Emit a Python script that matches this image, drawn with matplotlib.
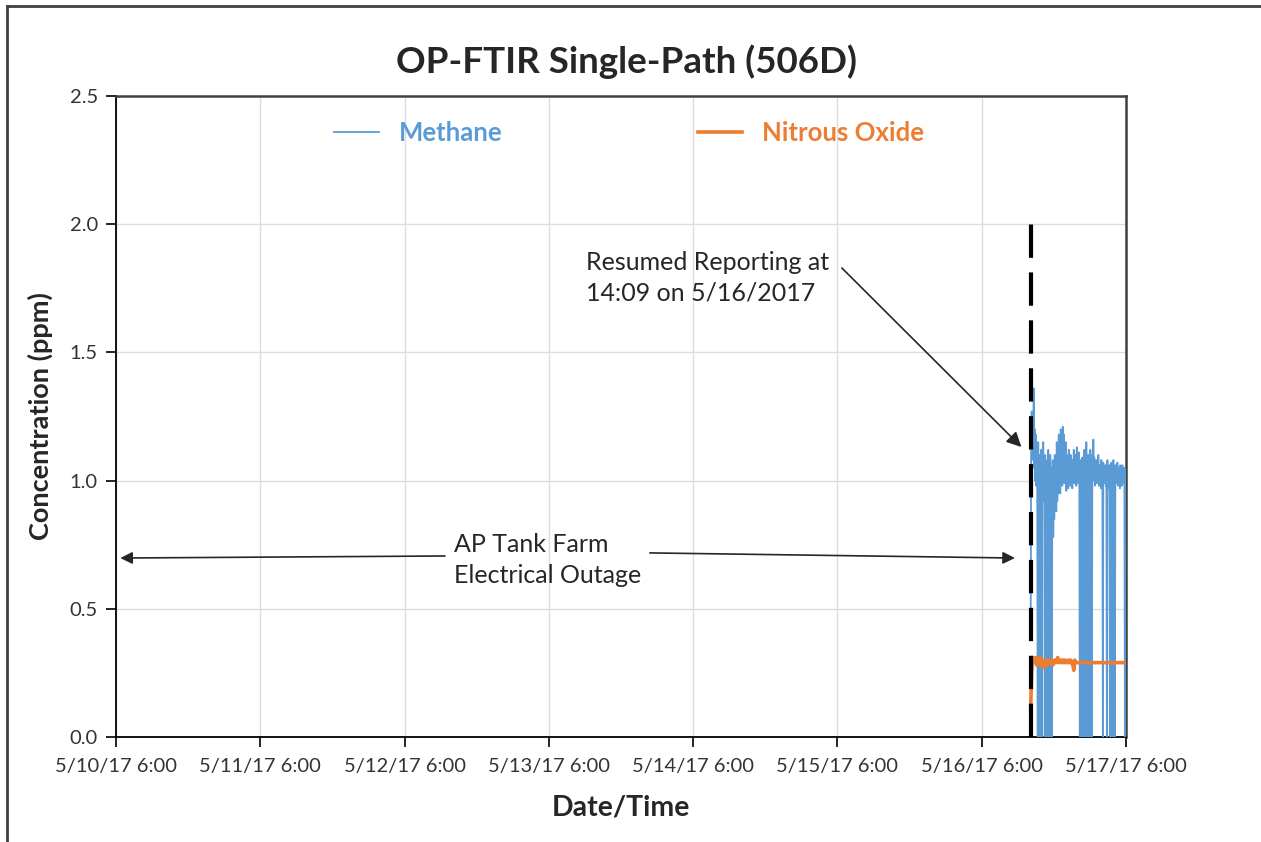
import matplotlib
matplotlib.use("Agg")
import matplotlib.pyplot as plt
from matplotlib.lines import Line2D
import pandas as pd

plt.rcParams['font.family'] = ['Lato', 'DejaVu Sans']

# ---------------- data ----------------
x_ticks = pd.date_range("2017-05-10 06:00", "2017-05-17 06:00", freq="D")
x_tick_labels = ["5/10/17 6:00", "5/11/17 6:00", "5/12/17 6:00", "5/13/17 6:00",
                 "5/14/17 6:00", "5/15/17 6:00", "5/16/17 6:00", "5/17/17 6:00"]
y_ticks = [0.0, 0.5, 1.0, 1.5, 2.0, 2.5]
resume_time = pd.Timestamp("2017-05-16 14:09")

methane = [
    0.45, 1.20, 1.27, 1.15, 1.22, 1.08, 1.36, 1.05, 1.20, 1.00,
    1.18, 0.98, 1.12, 1.02, 0.00, 1.15, 0.00, 1.10, 0.00, 1.05,
    0.00, 1.12, 0.00, 1.08, 0.95, 1.15, 0.92, 1.05, 0.00, 1.10,
    0.00, 1.05, 0.00, 1.08, 0.00, 1.12, 0.00, 1.02, 0.00, 1.10,
    0.00, 1.05, 0.00, 0.95, 1.08, 0.78, 1.02, 0.85, 1.10, 0.90,
    1.05, 0.88, 1.15, 0.92, 1.08, 0.95, 1.18, 0.98, 1.12, 0.95,
    1.20, 1.00, 1.16, 0.98, 1.21, 1.02, 1.18, 0.99, 1.12, 1.00,
    1.15, 0.96, 1.10, 1.00, 1.08, 0.97, 1.12, 1.01, 1.06, 0.98,
    1.10, 1.00, 1.05, 0.97, 1.08, 1.02, 1.12, 0.99, 1.06, 1.00,
    1.10, 0.98, 1.13, 1.01, 1.07, 0.99, 1.11, 1.02, 0.00, 1.08,
    0.00, 1.05, 0.00, 1.09, 0.00, 1.06, 0.00, 1.12, 0.00, 1.04,
    0.00, 1.15, 0.00, 1.08, 0.00, 1.10, 0.00, 1.05, 0.00, 1.12,
    0.00, 1.07, 0.00, 1.10, 1.00, 1.16, 1.02, 1.09, 0.98, 1.06,
    1.01, 1.08, 0.99, 1.05, 1.02, 1.10, 0.98, 1.06, 1.00, 1.04,
    0.97, 1.08, 1.00, 1.05, 0.00, 1.07, 0.99, 1.04, 1.01, 1.06,
    0.98, 1.05, 0.00, 1.08, 1.00, 1.03, 0.97, 1.06, 0.00, 1.04,
    0.00, 1.07, 0.00, 1.05, 0.00, 1.08, 0.00, 1.03, 0.00, 1.06,
    0.99, 1.04, 1.01, 1.07, 0.98, 1.05, 1.00, 1.03, 0.97, 1.06,
    1.00, 1.04, 0.98, 1.06, 1.01, 1.03, 0.99, 1.05, 0.00, 1.04,
]
nitrous_oxide = [
    0.12, 0.25, 0.31, 0.30, 0.29, 0.31, 0.28, 0.30, 0.29, 0.31,
    0.28, 0.29, 0.30, 0.27, 0.29, 0.30, 0.28, 0.29, 0.30, 0.29,
    0.29, 0.30, 0.28, 0.29, 0.30, 0.29, 0.30, 0.31, 0.29, 0.30,
    0.29, 0.30, 0.29, 0.30, 0.29, 0.30, 0.29, 0.29, 0.30, 0.29,
    0.30, 0.29, 0.28, 0.26, 0.30, 0.29, 0.29, 0.29, 0.29, 0.29,
    0.29, 0.29, 0.29, 0.29, 0.29, 0.29, 0.29, 0.29, 0.29, 0.29,
    0.29, 0.29, 0.29, 0.29, 0.29, 0.29, 0.29, 0.29, 0.29, 0.29,
    0.29, 0.29, 0.29, 0.29, 0.29, 0.29, 0.29, 0.29, 0.29, 0.29,
    0.29, 0.29, 0.29, 0.29, 0.29, 0.29, 0.29, 0.29, 0.29, 0.29,
    0.29, 0.29, 0.29, 0.29, 0.29,
]
methane_time = pd.date_range(resume_time, periods=len(methane), freq="5min")
n2o_time = pd.date_range(resume_time, periods=len(nitrous_oxide), freq="10min")

blue = "#5B9BD5"
orange = "#ED7D31"
text_col = "#262626"

# ---------------- figure ----------------
fig = plt.figure(figsize=(12.61, 8.42), dpi=100)
ax = fig.add_axes([116/1261, 1-737/842, 1010/1261, 641/842])

ax.plot(methane_time, methane, color=blue, lw=1.3, zorder=3)
ax.plot(n2o_time, nitrous_oxide, color=orange, lw=2.6, zorder=4)

ax.plot([resume_time, resume_time], [0, 2.0], color="black", lw=3,
        dashes=(8, 3.5), zorder=5)

ax.set_xlim(x_ticks[0], x_ticks[-1])
ax.set_ylim(0, 2.5)
ax.set_xticks(x_ticks)
ax.set_xticklabels(x_tick_labels)
ax.set_yticks(y_ticks)
ax.set_yticklabels([f"{v:.1f}" for v in y_ticks])
ax.grid(True, color="#d9dde3", lw=1.0, zorder=0)
ax.set_axisbelow(True)
ax.tick_params(axis="both", direction="out", length=7, width=1.2,
               labelsize=14.5, labelcolor="#333333", color="black")
ax.tick_params(axis="x", pad=8)
ax.tick_params(axis="y", pad=6)
for s in ["left", "bottom"]:
    ax.spines[s].set_color("black")
    ax.spines[s].set_linewidth(1.3)
for s in ["top", "right"]:
    ax.spines[s].set_color("#404040")
    ax.spines[s].set_linewidth(1.8)

ax.set_xlabel("Date/Time", fontsize=20.5, fontweight="bold", labelpad=14,
              color=text_col)
ax.set_ylabel("Concentration (ppm)", fontsize=19.5, fontweight="bold", labelpad=12,
              color=text_col)
fig.text(627/1261, 1-62/842, "OP-FTIR Single-Path (506D)", fontsize=26.5,
         fontweight="bold", ha="center", va="center", color=text_col)

handles = [Line2D([], [], color=blue, lw=1.3), Line2D([], [], color=orange, lw=2.6)]
leg = ax.legend(handles, ["Methane", "Nitrous Oxide"], loc="center",
                bbox_to_anchor=(0.508, 0.942), ncol=2, frameon=False,
                prop={"size": 18.5, "weight": "bold"}, handlelength=1.75,
                handletextpad=0.75, columnspacing=7.6)
for t, c in zip(leg.get_texts(), [blue, orange]):
    t.set_color(c)

base = x_ticks[0]
def d(days):
    return base + pd.Timedelta(days=days)

ax.text(d(3.257), 1.79, "Resumed Reporting at\n14:09 on 5/16/2017", fontsize=18,
        ha="left", va="center", color=text_col, linespacing=1.38)
ax.annotate("", xy=(d(6.275), 1.131), xytext=(d(5.031), 1.829),
            arrowprops=dict(arrowstyle="-|>", color=text_col, lw=1.2,
                            mutation_scale=22, shrinkA=0, shrinkB=0))
ax.text(d(2.343), 0.69, "AP Tank Farm\nElectrical Outage", fontsize=18,
        ha="left", va="center", color=text_col, linespacing=1.38)
ax.annotate("", xy=(d(0.03), 0.698), xytext=(d(2.28), 0.706),
            arrowprops=dict(arrowstyle="-|>", color=text_col, lw=1.2,
                            mutation_scale=18, shrinkA=0, shrinkB=0))
ax.annotate("", xy=(d(6.23), 0.698), xytext=(d(3.70), 0.718),
            arrowprops=dict(arrowstyle="-|>", color=text_col, lw=1.2,
                            mutation_scale=18, shrinkA=0, shrinkB=0))

# outer frame (left and top edges visible)
fig.add_artist(Line2D([7/1261, 7/1261], [0, 1-6/842], transform=fig.transFigure,
                      color="#404040", lw=2))
fig.add_artist(Line2D([7/1261, 1], [1-6/842, 1-6/842], transform=fig.transFigure,
                      color="#404040", lw=2))

fig.savefig("out.png", dpi=100)
